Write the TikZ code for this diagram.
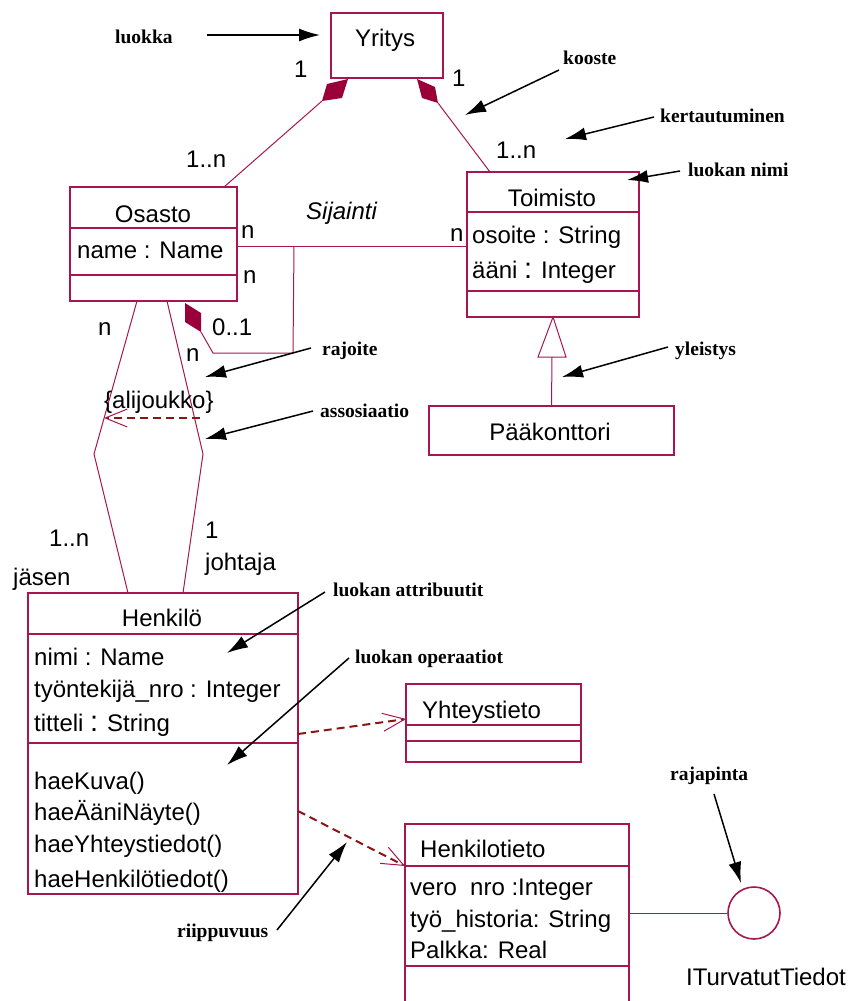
\documentclass[tikz,border=0pt]{standalone}
\usepackage{fontspec}
\setmainfont{Liberation Sans}
\newfontfamily\notefont{Liberation Serif}
\usetikzlibrary{arrows.meta}

\definecolor{umlline}{RGB}{168,22,80}
\definecolor{umlfill}{RGB}{153,0,58}
\definecolor{depline}{RGB}{139,20,20}

\newcommand\widecolon{{\fontsize{29}{29}\selectfont :}}

\tikzset{
  cls/.style={draw=umlline, line width=1.3pt, anchor=north west, inner sep=0pt, outer sep=0pt},
  divider/.style={draw=umlline, line width=1.3pt},
  assoc/.style={draw=umlline, line width=1pt},
  dep/.style={draw=depline, line width=2pt, dash pattern=on 8pt off 5pt,
    -{Straight Barb[length=22pt,width=18pt,line width=1pt,color=umlline]}},
  lbl/.style={font=\fontsize{24}{24}\selectfont, inner sep=0pt, anchor=base west},
  ctr/.style={lbl, anchor=base},
  note/.style={font=\notefont\bfseries\fontsize{19.5}{19.5}\selectfont, inner sep=0pt, anchor=base west},
  pointer/.style={draw=black, line width=1.5pt, -{Latex[length=21pt,width=13pt]}},
}

\begin{document}
\begin{tikzpicture}[x=1pt,y=-1pt]
\useasboundingbox (0,0) rectangle (849,1001);
\clip (0,0) rectangle (849,1001);

% ---------- classes ----------
\node[cls, minimum width=112pt, minimum height=65pt] (yritys) at (331,13) {};
\node[ctr] (yritysName) at (385,46) {Yritys};

\node[cls, minimum width=167pt, minimum height=114pt] (osasto) at (70,187) {};
\draw[divider] (osasto.west |- 0,228) -- (osasto.east |- 0,228);
\draw[divider] (osasto.west |- 0,275) -- (osasto.east |- 0,275);
\node[ctr] (osastoName) at (153,222) {Osasto};
\node[lbl] (osastoAttr) at (77,258) {name : Name};

\node[cls, minimum width=172pt, minimum height=145pt] (toimisto) at (467,172) {};
\draw[divider] (toimisto.west |- 0,212) -- (toimisto.east |- 0,212);
\draw[divider] (toimisto.west |- 0,291) -- (toimisto.east |- 0,291);
\node[ctr] (toimistoName) at (552,206) {Toimisto};
\node[lbl] (toimistoA1) at (472,243) {osoite : String};
\node[lbl] (toimistoA2) at (472,278) {ääni \widecolon{} Integer};

\node[cls, minimum width=245pt, minimum height=49pt] (paakonttori) at (429,406) {};
\node[ctr] (paakonttoriName) at (550,440) {Pääkonttori};

\node[cls, minimum width=270pt, minimum height=301pt] (henkilo) at (28,593) {};
\draw[divider] (henkilo.west |- 0,634) -- (henkilo.east |- 0,634);
\draw[divider] (henkilo.west |- 0,743) -- (henkilo.east |- 0,743);
\node[ctr] (henkiloName) at (162,626) {Henkilö};
\node[lbl] (henkiloA1) at (34,665) {nimi : Name};
\node[lbl] (henkiloA2) at (34,697) {työntekijä\_nro : Integer};
\node[lbl] (henkiloA3) at (34,731) {titteli \widecolon{} String};
\node[lbl] (henkiloO1) at (34,789) {haeKuva()};
\node[lbl] (henkiloO2) at (34,820) {haeÄäniNäyte()};
\node[lbl] (henkiloO3) at (34,852) {haeYhteystiedot()};
\node[lbl] (henkiloO4) at (34,887) {haeHenkilötiedot()};

\node[cls, minimum width=175pt, minimum height=78pt] (yhteystieto) at (406,684) {};
\draw[divider] (yhteystieto.west |- 0,725) -- (yhteystieto.east |- 0,725);
\draw[divider] (yhteystieto.west |- 0,741) -- (yhteystieto.east |- 0,741);
\node[lbl] (yhteystietoName) at (422,718) {Yhteystieto};

\node[cls, minimum width=224pt, minimum height=200pt] (henkilotieto) at (405,824) {};
\draw[divider] (henkilotieto.west |- 0,866) -- (henkilotieto.east |- 0,866);
\draw[divider] (henkilotieto.west |- 0,966) -- (henkilotieto.east |- 0,966);
\node[lbl] (henkilotietoName) at (420,857) {Henkilotieto};
\node[lbl] (henkilotietoA1) at (410,895) {vero\ \ nro :Integer};
\node[lbl] (henkilotietoA2) at (410,927) {työ\_historia: String};
\node[lbl] (henkilotietoA3) at (410,958) {Palkka: Real};

% interface lollipop
\node[circle, draw=umlline, line width=1.6pt, minimum size=52pt, inner sep=0pt] (iface) at (754,913) {};
\node[ctr] (ifaceName) at (766,985) {ITurvatutTiedot};
\draw[assoc] (henkilotieto.east |- iface.west) -- (iface.west);

% ---------- aggregations from Yritys ----------
\coordinate (aggL) at (322,101);
\coordinate (aggR) at (438,103);
\coordinate (osastoTop) at (224,187);
\coordinate (toimistoTop) at (490,172);
\fill[umlfill] (348,79) -- (342,98) -- (aggL) -- (327,84) -- cycle;
\fill[umlfill] (417,79) -- (435,87) -- (aggR) -- (422,98) -- cycle;
\draw[assoc] (aggL) -- (osastoTop);
\draw[assoc] (aggR) -- (toimistoTop);
\node[lbl] (mYL) at (294,77) {1};
\node[lbl] (mYR) at (452,86) {1};
\node[lbl] (mOs) at (186,167) {1..n};
\node[lbl] (mTo) at (496,158) {1..n};

% ---------- Sijainti association ----------
\draw[assoc] (osasto.east |- 0,246) -- (toimisto.west |- 0,246);
\node[lbl, font=\fontsize{24}{24}\selectfont\itshape] (sijainti) at (306,219) {Sijainti};
\node[lbl] (mSij1) at (241,238) {n};
\node[lbl] (mSij2) at (450,241) {n};

% ---------- self composition of Osasto ----------
\coordinate (selfA) at (294,246);
\coordinate (selfB) at (293,353);
\coordinate (selfC) at (213,353);
\coordinate (selfD) at (201,332);
\fill[umlfill] (185,303) -- (201,313) -- (selfD) -- (185,322) -- cycle;
\draw[assoc] (selfA) -- (selfB) -- (selfC) -- (selfD);
\node[lbl] (mSelf1) at (243,283) {n};
\node[lbl] (mSelf2) at (212,335) {0..1};

% ---------- Osasto -- Henkilö associations ----------
\coordinate (jasenTop) at (137,301);
\coordinate (jasenBend) at (94,454);
\coordinate (jasenEnd) at (128,593);
\coordinate (johtajaTop) at (167,301);
\coordinate (johtajaBend) at (203,454);
\coordinate (johtajaEnd) at (183,593);
\draw[assoc] (jasenTop) -- (jasenBend) -- (jasenEnd);
\draw[assoc] (johtajaTop) -- (johtajaBend) -- (johtajaEnd);
\node[lbl] (mJ1) at (98,335) {n};
\node[lbl] (mJ2) at (186,361) {n};
\node[lbl] (mJ3) at (49,546) {1..n};
\node[lbl] (rJ3) at (13,585) {jäsen};
\node[lbl] (mJ4) at (205,538) {1};
\node[lbl] (rJ4) at (205,570) {johtaja};

% {alijoukko} constraint
\node[lbl] (alijoukko) at (104,408) {\{alijoukko\}};
\coordinate (subsetFrom) at (200,418);
\coordinate (subsetTo) at (104,418);
\draw[dep] (subsetFrom) -- (subsetTo);

% ---------- generalization ----------
\coordinate (genApex) at (toimisto.south);
\coordinate (genBase) at (552,357);
\draw[assoc, fill=white] (genApex) -- (566,357) -- (538,357) -- cycle;
\draw[assoc] (genBase) -- (paakonttori.north);

% ---------- dependencies ----------
\coordinate (dep1From) at (298,734);
\coordinate (dep1To) at (406,719);
\coordinate (dep2From) at (298,811);
\coordinate (dep2To) at (405,866);
\draw[dep] (dep1From) -- (dep1To);
\draw[dep] (dep2From) -- (dep2To);

% ---------- annotations ----------
\node[note] (nLuokka) at (115,43) {luokka};
\node[note] (nKooste) at (563,64) {kooste};
\node[note] (nKert) at (660,122) {kertautuminen};
\node[note] (nNimi) at (688,176) {luokan nimi};
\node[note] (nYleis) at (675,355) {yleistys};
\node[note] (nRaj) at (322,355) {rajoite};
\node[note] (nAssos) at (320,417) {assosiaatio};
\node[note] (nAttr) at (333,596) {luokan attribuutit};
\node[note] (nOper) at (355,663) {luokan operaatiot};
\node[note] (nRaja) at (670,780) {rajapinta};
\node[note] (nRiip) at (177,937) {riippuvuus};

\coordinate (pLuokkaA) at (207,35);   \coordinate (pLuokkaB) at (320,35);
\coordinate (pKoosteA) at (559,70);   \coordinate (pKoosteB) at (465,115);
\coordinate (pKertA) at (654,117);    \coordinate (pKertB) at (565,139);
\coordinate (pNimiA) at (680,171);    \coordinate (pNimiB) at (627,180);
\coordinate (pYleisA) at (668,347);   \coordinate (pYleisB) at (562,377);
\coordinate (pRajA) at (311,348);     \coordinate (pRajB) at (205,377);
\coordinate (pAssosA) at (313,411);   \coordinate (pAssosB) at (205,439);
\coordinate (pAttrA) at (325,592);    \coordinate (pAttrB) at (227,653);
\coordinate (pOperA) at (349,658);    \coordinate (pOperB) at (227,765);
\coordinate (pRajaA) at (714,794);    \coordinate (pRajaB) at (741,883);
\coordinate (pRiipA) at (277,930);    \coordinate (pRiipB) at (347,842);

\draw[pointer] (pLuokkaA) -- (pLuokkaB);
\draw[pointer] (pKoosteA) -- (pKoosteB);
\draw[pointer] (pKertA) -- (pKertB);
\draw[pointer] (pNimiA) -- (pNimiB);
\draw[pointer] (pYleisA) -- (pYleisB);
\draw[pointer] (pRajA) -- (pRajB);
\draw[pointer] (pAssosA) -- (pAssosB);
\draw[pointer] (pAttrA) -- (pAttrB);
\draw[pointer] (pOperA) -- (pOperB);
\draw[pointer] (pRajaA) -- (pRajaB);
\draw[pointer] (pRiipA) -- (pRiipB);
\end{tikzpicture}
\end{document}
